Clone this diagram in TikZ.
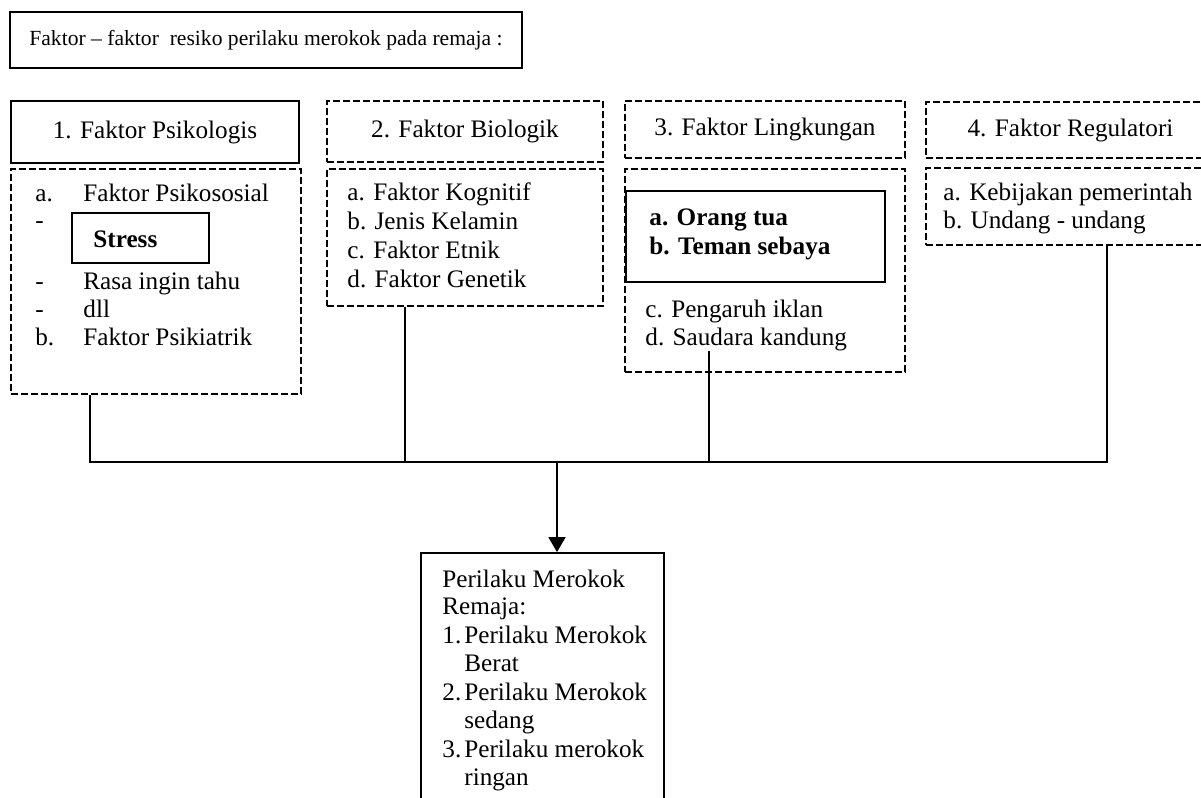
\documentclass[tikz,border=0pt]{standalone}
\usepackage{fontspec}
\setmainfont{Liberation Serif}
\usetikzlibrary{arrows.meta,positioning}
\tikzset{
  >={Triangle[length=7.5pt,width=8.5pt]},
  every node/.style={font=\fontsize{12.6}{14.5}\selectfont},
  solidbox/.style={draw,line width=0.9pt,inner sep=0pt},
  dashbox/.style={draw,line width=0.8pt,dash pattern=on 3.3pt off 1.7pt,inner sep=0pt},
  item/.style={anchor=base west,inner sep=0pt},
  bolditem/.style={item,font=\fontsize{12.6}{14.5}\selectfont\bfseries},
  link/.style={line width=0.9pt},
}
\begin{document}
\begin{tikzpicture}[x=0.5pt,y=-0.5pt]
  \useasboundingbox (0,0) rectangle (1201,798);
  \node[solidbox,minimum width=256pt,minimum height=28pt,font=\fontsize{10.8}{13}\selectfont] (judul) at (266,40)
    {Faktor – faktor\ \ resiko perilaku merokok pada remaja :};
  % kepala faktor
  \node[solidbox,minimum width=144pt,minimum height=31pt] (h1) at (155,132) {1. Faktor Psikologis};
  \node[dashbox,minimum width=138pt,minimum height=30.5pt] (h2) at (465,131.5) {2. Faktor Biologik};
  \node[dashbox,minimum width=140pt,minimum height=28.5pt] (h3) at (765,129.5) {3. Faktor Lingkungan};
  \node[dashbox,minimum width=144.5pt,minimum height=28pt] (h4) at (1070.5,130) {4. Faktor Regulatori};
  % isi faktor
  \node[dashbox,minimum width=145pt,minimum height=112.5pt] (b1) at (156,281.5) {};
  \node[dashbox,minimum width=138pt,minimum height=68.5pt] (b2) at (465,237.5) {};
  \node[dashbox,minimum width=140pt,minimum height=101.5pt] (b3) at (765,270.5) {};
  \node[dashbox,minimum width=144.5pt,minimum height=38.5pt] (b4) at (1070.5,206.5) {};
  \node[solidbox,minimum width=68.5pt,minimum height=25pt] (stres) at (140.5,238) {};
  \node[solidbox,minimum width=129.5pt,minimum height=45.5pt] (teman) at (755.5,236.5) {};
  \node[solidbox,minimum width=121.5pt,minimum height=138.5pt] (hasil) at (542.5,691.5) {};

  \foreach \m/\y [count=\i] in {a./201,-/228,-/289,-/317,b./345}
    \node[item] (m1-\i) at (35,\y) {\m};
  \foreach \t/\y [count=\i] in {Faktor Psikososial/201,Rasa ingin tahu/289,dll/317,Faktor Psikiatrik/345}
    \node[item] (t1-\i) at (83,\y) {\t};
  \node[bolditem] (stres-t) at (93,247) {Stress};
  \foreach \t/\y [count=\i] in {a. Faktor Kognitif/200,b. Jenis Kelamin/229,c. Faktor Etnik/258,d. Faktor Genetik/287}
    \node[item] (t2-\i) at (347,\y) {\t};
  \foreach \t/\y [count=\i] in {a. Orang tua/225,b. Teman sebaya/254}
    \node[bolditem] (t3b-\i) at (649,\y) {\t};
  \foreach \t/\y [count=\i] in {c. Pengaruh iklan/317,d. Saudara kandung/345}
    \node[item] (t3-\i) at (645,\y) {\t};
  \foreach \t/\y [count=\i] in {a. Kebijakan pemerintah/200,b. Undang - undang/228}
    \node[item] (t4-\i) at (943,\y) {\t};
  \foreach \t/\y [count=\i] in {Perilaku Merokok/587,Remaja:/614,1./643,2./700,3./757}
    \node[item] (m5-\i) at (442,\y) {\t};
  \foreach \t/\y [count=\i] in {Perilaku Merokok/643,Berat/671,Perilaku Merokok/700,sedang/728,Perilaku merokok/757,ringan/785}
    \node[item] (t5-\i) at (464,\y) {\t};

  % garis penghubung
  \coordinate (j1) at (90,462);
  \coordinate (j2) at (405,462);
  \coordinate (j3) at (709,462);
  \coordinate (j4) at (1107,462);
  \coordinate (bus) at (557,462);
  \coordinate (c3) at (709,351);
  \draw[link] (b1.south -| j1) -- (j1) -- (j4) -- (b4.south -| j4);
  \draw[link] (b2.south -| j2) -- (j2);
  \draw[link] (c3) -- (j3);
  \draw[link,->] (bus) -- (hasil.north -| bus);
\end{tikzpicture}
\end{document}
